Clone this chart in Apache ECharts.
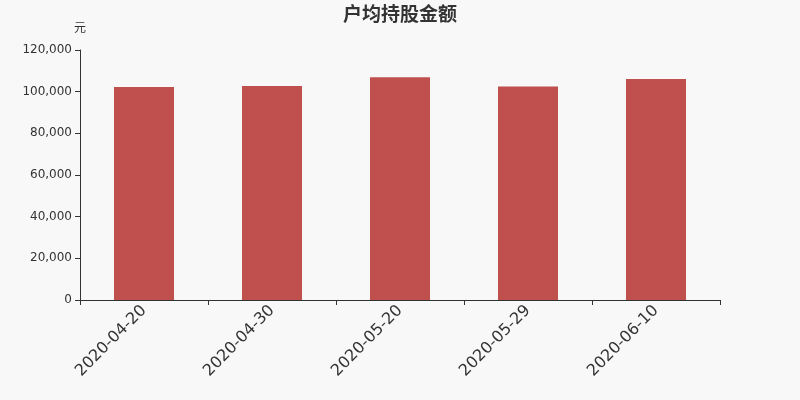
<!DOCTYPE html>
<html><head><meta charset="utf-8">
<script src="https://cdn.jsdelivr.net/npm/echarts@6/dist/echarts.min.js"></script>
<style>html,body{margin:0;padding:0;background:#f8f8f8;}#c{width:800px;height:400px;}</style>
</head><body><div id="c"></div>
<script>
const categories = ['2020-04-20','2020-04-30','2020-05-20','2020-05-29','2020-06-10'];
const values = [102200, 102700, 106900, 102500, 106100];
const titleText = '户均持股金额';
const unitName = '元';
const FONT = '"DejaVu Sans", "Noto Sans CJK SC", sans-serif';
const chart = echarts.init(document.getElementById('c'));
chart.setOption({
  backgroundColor: '#f8f8f8',
  animation: false,
  textStyle: { fontFamily: FONT },
  title: { text: titleText, left: 'center', top: 2, textStyle: { fontSize: 19, fontWeight: 'bold', color: '#333', fontFamily: FONT } },
  grid: { left: 80, right: 80, top: 50, bottom: 100 },
  xAxis: {
    type: 'category', data: categories,
    axisLine: { lineStyle: { color: '#333' } },
    axisTick: { show: true, alignWithLabel: false, lineStyle: { color: '#333' } },
    axisLabel: { rotate: 45, fontSize: 16, color: '#333', margin: 8, interval: 0, fontFamily: FONT }
  },
  yAxis: {
    type: 'value', min: 0, max: 120000, interval: 20000,
    name: unitName, nameGap: 21, nameTextStyle: { color: '#333', fontSize: 12, align: 'center', verticalAlign: 'middle', fontFamily: FONT },
    axisLine: { show: true, lineStyle: { color: '#333' } },
    axisTick: { show: true, lineStyle: { color: '#333' } },
    splitLine: { show: false },
    axisLabel: { color: '#333', fontSize: 12, fontFamily: FONT, formatter: v => v.toLocaleString('en-US') }
  },
  series: [{ type: 'bar', data: values, barWidth: 60, itemStyle: { color: '#c0504d' } }]
});
</script></body></html>
